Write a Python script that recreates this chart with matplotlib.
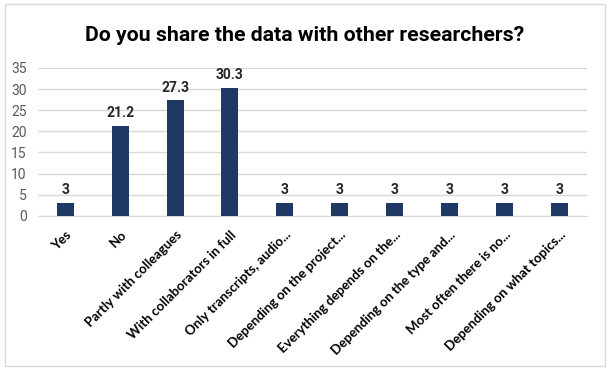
import matplotlib
matplotlib.use("Agg")
import matplotlib.pyplot as plt
from matplotlib.patches import Rectangle

categories = ["Yes", "No", "Partly with colleagues", "With collaborators in full",
              "Only transcripts, audio...", "Depending on the project...",
              "Everything depends on the...", "Depending on the type and...",
              "Most often there is no...", "Depending on what topics..."]
values = [3, 21.2, 27.3, 30.3, 3, 3, 3, 3, 3, 3]
value_labels = ["3", "21.2", "27.3", "30.3", "3", "3", "3", "3", "3", "3"]
yticks = [0, 5, 10, 15, 20, 25, 30, 35]

bar_color = "#203864"
narrow = ["Roboto", "DejaVu Sans"]

fig = plt.figure(figsize=(6.1, 3.71), dpi=100)
fig.patches.append(Rectangle((0.008, 0.013), 0.984, 0.975, transform=fig.transFigure,
                             fill=False, edgecolor="#d9d9d9", linewidth=1))

ax = fig.add_axes([0.062, 0.418, 0.900, 0.399])
x = range(len(categories))
ax.bar(x, values, width=0.31, color=bar_color, zorder=3)

for xi, v, lab in zip(x, values, value_labels):
    ax.text(xi, v + 1.4, lab, ha="center", va="bottom", fontsize=10,
            family=narrow, fontweight="bold", color="#262626")

ax.set_xlim(-0.5, len(categories) - 0.5)
ax.set_ylim(0, 35)
ax.set_yticks(yticks)
ax.set_yticklabels([str(t) for t in yticks], family=narrow, fontsize=10, color="#595959")
ax.grid(axis="y", color="#d9d9d9", linewidth=1, zorder=0)
for s in ["top", "right", "left"]:
    ax.spines[s].set_visible(False)
ax.spines["bottom"].set_color("#d9d9d9")
ax.tick_params(axis="both", length=0)
ax.tick_params(axis="y", pad=8)
ax.tick_params(axis="x", pad=9)

ax.set_xticks(list(x))
ax.set_xticklabels(categories, rotation=45, ha="right", rotation_mode="anchor",
                   fontsize=9.5, fontweight="bold", family=["Lato", "DejaVu Sans"],
                   color="#000000")

fig.text(0.5, 0.905, "Do you share the data with other researchers?", ha="center", va="center",
         fontsize=15.3, fontweight="bold", family=narrow, color="#000000")

fig.savefig("out.png", dpi=100)
